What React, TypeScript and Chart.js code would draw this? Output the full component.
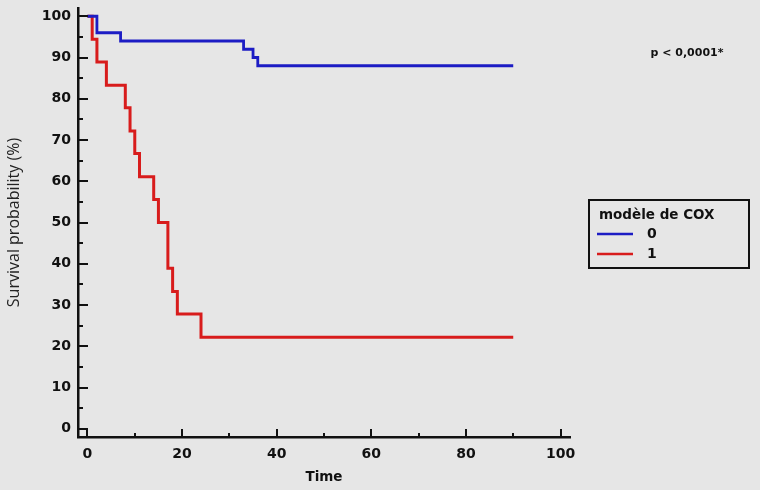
import React, { useEffect, useRef } from 'react';
import { Chart, registerables } from 'chart.js';

Chart.register(...registerables);

// ---- data ----
const timeGroup0 = [0, 2, 7, 33, 35, 36, 90];
const survGroup0 = [100, 96, 94, 92, 90, 88, 88];
const timeGroup1 = [0, 1, 2, 4, 8, 9, 10, 11, 14, 15, 17, 18, 19, 24, 90];
const survGroup1 = [100, 94.4, 88.9, 83.3, 77.8, 72.2, 66.7, 61.1, 55.6, 50, 38.9, 33.3, 27.8, 22.2, 22.2];
const seriesLabels = ['0', '1'];
const xTicks = [0, 20, 40, 60, 80, 100];
const xMinorTicks = [10, 30, 50, 70, 90];
const yTicks = [0, 10, 20, 30, 40, 50, 60, 70, 80, 90, 100];
const yMinorTicks = [5, 15, 25, 35, 45, 55, 65, 75, 85, 95];
const legendTitle = 'modèle de COX';
const pValueText = 'p < 0,0001*';
const xTitle = 'Time';
const yTitle = 'Survival probability (%)';

const BG = '#e6e6e6';
const BLUE = '#1c1cc4';
const RED = '#d81c1c';
const BOLD_FONT = '"DejaVu Sans", Verdana, sans-serif';
const REG_FONT = '"Open Sans", "DejaVu Sans", sans-serif';

const decorPlugin = {
  id: 'decor',
  beforeDraw(chart: any) {
    const ctx = chart.ctx;
    ctx.save();
    ctx.fillStyle = BG;
    ctx.fillRect(0, 0, chart.width, chart.height);
    ctx.restore();
  },
  afterDraw(chart: any) {
    const ctx = chart.ctx;
    const xs = chart.scales.x;
    const ys = chart.scales.y;
    const area = chart.chartArea;
    ctx.save();
    ctx.strokeStyle = '#111';
    ctx.lineWidth = 2;
    ctx.lineCap = 'butt';
    const tickY = (v: number, len: number) => {
      const p = Math.round(ys.getPixelForValue(v));
      ctx.beginPath();
      ctx.moveTo(area.left, p);
      ctx.lineTo(area.left + len, p);
      ctx.stroke();
    };
    yTicks.forEach((v) => tickY(v, 10));
    yMinorTicks.forEach((v) => tickY(v, 5));
    const tickX = (v: number, len: number) => {
      const p = Math.round(xs.getPixelForValue(v));
      ctx.beginPath();
      ctx.moveTo(p, area.bottom);
      ctx.lineTo(p, area.bottom - len);
      ctx.stroke();
    };
    xTicks.forEach((v) => tickX(v, 8));
    xMinorTicks.forEach((v) => tickX(v, 4));

    // p-value
    ctx.fillStyle = '#111';
    ctx.font = `bold 11px ${BOLD_FONT}`;
    ctx.textAlign = 'center';
    ctx.textBaseline = 'middle';
    ctx.fillText(pValueText, 687, 53);

    // legend box
    ctx.lineWidth = 2;
    ctx.strokeStyle = '#111';
    ctx.strokeRect(589, 200, 160, 68);
    ctx.textAlign = 'left';
    ctx.font = `bold 13.5px ${BOLD_FONT}`;
    ctx.fillText(legendTitle, 599, 215);
    const colors = [BLUE, RED];
    ctx.font = `bold 14px ${BOLD_FONT}`;
    seriesLabels.forEach((lab, i) => {
      const y = 234 + i * 20;
      ctx.strokeStyle = colors[i];
      ctx.lineWidth = 2.5;
      ctx.beginPath();
      ctx.moveTo(597, y);
      ctx.lineTo(633, y);
      ctx.stroke();
      ctx.fillStyle = '#111';
      ctx.fillText(lab, 647, y);
    });
    ctx.restore();
  },
};

export default function App() {
  const ref = useRef<HTMLCanvasElement | null>(null);
  useEffect(() => {
    if (!ref.current) return;
    const chart = new Chart(ref.current, {
      type: 'line',
      data: {
        datasets: [
          {
            label: seriesLabels[0],
            data: timeGroup0.map((t, i) => ({ x: t, y: survGroup0[i] })),
            borderColor: BLUE,
            borderWidth: 2.8,
            pointRadius: 0,
            stepped: 'before',
            fill: false,
          },
          {
            label: seriesLabels[1],
            data: timeGroup1.map((t, i) => ({ x: t, y: survGroup1[i] })),
            borderColor: RED,
            borderWidth: 3,
            pointRadius: 0,
            stepped: 'before',
            fill: false,
          },
        ],
      },
      options: {
        responsive: false,
        animation: false,
        layout: { padding: { top: 8, right: 190, left: 0, bottom: 0 } },
        plugins: {
          legend: { display: false },
          tooltip: { enabled: false },
        },
        scales: {
          x: {
            type: 'linear',
            min: -2,
            max: 102,
            afterBuildTicks: (s: any) => {
              s.ticks = xTicks.map((v) => ({ value: v }));
            },
            afterFit: (s: any) => {
              s.height = 53;
              s.paddingLeft = 0;
              s.paddingRight = 0;
              s.paddingTop = 0;
              s.paddingBottom = 0;
            },
            grid: { display: false, drawTicks: false },
            border: { display: true, color: '#111', width: 2.5 },
            ticks: {
              padding: 9,
              color: '#111',
              font: { family: BOLD_FONT, size: 14, weight: 'bold' },
              maxRotation: 0,
            },
            title: {
              display: true,
              text: xTitle,
              color: '#111',
              font: { family: BOLD_FONT, size: 13.5, weight: 'bold' },
              padding: { top: 0, bottom: 4 },
            },
          },
          y: {
            type: 'linear',
            min: -2,
            max: 102,
            afterBuildTicks: (s: any) => {
              s.ticks = yTicks.map((v) => ({ value: v }));
            },
            afterFit: (s: any) => {
              s.width = 78;
              s.paddingLeft = 0;
              s.paddingRight = 0;
              s.paddingTop = 0;
              s.paddingBottom = 0;
            },
            grid: { display: false, drawTicks: false },
            border: { display: true, color: '#111', width: 2.5 },
            ticks: {
              padding: 7,
              color: '#111',
              font: { family: BOLD_FONT, size: 14, weight: 'bold' },
            },
            title: {
              display: true,
              text: yTitle,
              color: '#222',
              font: { family: REG_FONT, size: 16, weight: 'normal' },
              padding: { top: 5, bottom: 0 },
            },
          },
        },
      },
      plugins: [decorPlugin],
    } as any);
    return () => chart.destroy();
  }, []);

  return (
    <div
      style={{
        position: 'fixed',
        left: 0,
        top: 0,
        width: 760,
        height: 490,
        background: BG,
      }}
    >
      <canvas ref={ref} width={760} height={490} style={{ display: 'block' }} />
    </div>
  );
}
